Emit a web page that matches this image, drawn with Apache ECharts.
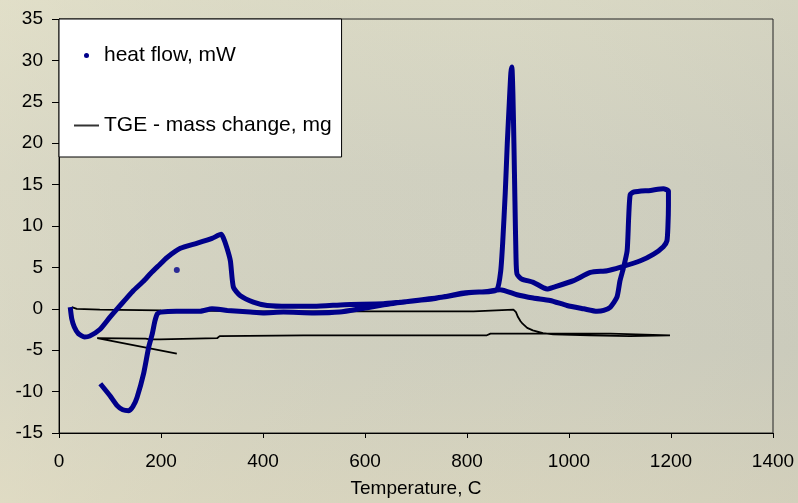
<!DOCTYPE html>
<html>
<head>
<meta charset="utf-8">
<script src="https://cdn.jsdelivr.net/npm/echarts@6/dist/echarts.min.js"></script>
<style>
  html, body { margin: 0; padding: 0; }
  #main { width: 798px; height: 503px; }
</style>
</head>
<body>
<div id="main"></div>
<script>
// heat flow, mW  [temperature C, value]  - heating then cooling
var heatFlow = [
    [22, 0.2], [25, -1.2], [30, -2.2], [38, -3.0], [50, -3.4], [60, -3.3], [80, -2.5],
    [100, -1.0], [114, 0], [130, 1.1], [146, 2.2], [165, 3.3], [180, 4.3], [195, 5.2],
    [212, 6.2], [238, 7.3], [270, 7.9], [300, 8.5], [318, 9.0], [322, 8.6], [329, 7.4],
    [336, 5.8], [342, 2.6], [355, 1.6], [381, 0.8], [408, 0.4], [450, 0.3], [500, 0.3],
    [560, 0.5], [636, 0.6], [669, 0.8], [734, 1.2], [793, 1.9], [846, 2.1], [859, 2.3],
    [866, 4.5], [870, 8], [875, 14], [879, 20], [883, 25], [886, 28.5], [888, 29.2],
    [890, 26], [892, 20], [894, 13], [896, 6.5], [898, 4.2], [907, 3.6], [930, 3.2],
    [957, 2.4], [969, 2.6], [1009, 3.4], [1042, 4.4], [1075, 4.6], [1100, 5.0], [1140, 5.8],
    [1166, 6.6], [1185, 7.5], [1192, 8.2], [1194, 10], [1195, 12.5], [1195, 14.2],
    [1185, 14.5], [1160, 14.3], [1127, 14.1], [1120, 13.8], [1117, 11], [1114, 7],
    [1107, 5.0], [1100, 3.4], [1094, 1.4], [1081, 0.2], [1068, -0.2], [1055, -0.3],
    [1029, 0], [996, 0.4], [963, 1.0], [930, 1.3], [898, 1.7], [865, 2.3], [840, 2.1],
    [800, 1.9], [750, 1.4], [700, 1.0], [650, 0.6], [600, 0.1], [550, -0.4], [500, -0.5],
    [440, -0.4], [400, -0.5], [375, -0.4], [330, -0.2], [300, 0.0], [277, -0.3],
    [230, -0.3], [200, -0.4], [193, -0.6], [188, -1.5], [183, -3.0], [176, -4.6],
    [166, -7.8], [153, -10.7], [145, -11.8], [137, -12.3], [125, -12.2], [114, -11.7],
    [100, -10.5], [81, -9.05]
];
var heatFlowLast = [[231, 4.7]];

// TGE - mass change, mg
var massChange = [
    [25, 0.2], [35, 0.0], [80, -0.1], [82, -0.2], [200, -0.2], [400, -0.3], [600, -0.3],
    [813, -0.3], [816, -0.1], [891, -0.1], [896, -0.4], [900, -1.0], [905, -1.5],
    [909, -1.8], [918, -2.3], [929, -2.6], [949, -2.95], [969, -3.1], [1040, -3.2],
    [1120, -3.3], [1198, -3.2], [1081, -3.0], [846, -3.0], [839, -3.2], [669, -3.2],
    [480, -3.2], [315, -3.3], [313, -3.4], [310, -3.55], [198, -3.7], [178, -3.7],
    [170, -3.6], [75, -3.55], [231, -5.4]
];

var legendNames = ['heat flow, mW', 'TGE - mass change, mg'];

var dom = document.getElementById('main');
var myChart = echarts.init(dom, null, { renderer: 'canvas' });

var font = '"Liberation Sans", Arial, sans-serif';

myChart.setOption({
    animation: false,
    backgroundColor: new echarts.graphic.LinearGradient(0, 0, 0, 1, [
        { offset: 0, color: '#dcdbc6' },
        { offset: 0.35, color: '#d1d1c1' },
        { offset: 0.7, color: '#cfcfbf' },
        { offset: 1, color: '#d9d5be' }
    ]),
    graphic: [{
        type: 'rect',
        left: 0, top: 0, z: -10, silent: true,
        shape: { width: 798, height: 503 },
        style: {
            fill: new echarts.graphic.LinearGradient(0, 0, 1, 0, [
                { offset: 0, color: 'rgba(235,230,205,0.35)' },
                { offset: 0.6, color: 'rgba(200,200,185,0.1)' },
                { offset: 1, color: 'rgba(190,190,178,0.25)' }
            ])
        }
    }],
    textStyle: { fontFamily: font },
    grid: {
        left: 59, right: 25, top: 19, bottom: 70,
        show: true, borderColor: '#222', borderWidth: 1,
        backgroundColor: 'transparent',
        containLabel: false, outerBoundsMode: 'none'
    },
    legend: {
        data: [
            { name: legendNames[0], icon: 'circle' },
            { name: legendNames[1], itemStyle: { opacity: 0 }, lineStyle: { color: '#333', width: 2 } }
        ],
        orient: 'vertical',
        left: 59, top: 19,
        itemWidth: 25, itemHeight: 5, itemGap: 49,
        padding: [26, 10, 21, 14],
        backgroundColor: '#fff',
        borderColor: '#000', borderWidth: 1, borderRadius: 0,
        textStyle: { fontSize: 21, color: '#000', fontFamily: font },
        selectedMode: false
    },
    xAxis: {
        type: 'value',
        min: 0, max: 1400, interval: 200,
        name: 'Temperature, C',
        nameLocation: 'middle', nameGap: 46,
        nameTextStyle: { fontSize: 19, color: '#000', fontFamily: font },
        axisLine: { onZero: false, lineStyle: { color: '#000', width: 1 } },
        axisTick: { length: 5, lineStyle: { color: '#000' } },
        axisLabel: {
            fontSize: 19, color: '#000', margin: 19, fontFamily: font,
            formatter: function (v) { return String(v); }
        },
        splitLine: { show: false }
    },
    yAxis: {
        type: 'value',
        min: -15, max: 35, interval: 5,
        axisLine: { show: true, onZero: false, lineStyle: { color: '#000', width: 1 } },
        axisTick: { show: true, length: 7, lineStyle: { color: '#000' } },
        axisLabel: {
            fontSize: 19, color: '#000', margin: 16, fontFamily: font,
            formatter: function (v) { return String(v); }
        },
        splitLine: { show: false }
    },
    series: [{
        name: legendNames[1],
        type: 'line',
        data: massChange,
        showSymbol: false,
        symbol: 'none',
        color: '#000',
        lineStyle: { color: '#000', width: 1.8 },
        z: 2
    }, {
        name: legendNames[0],
        type: 'line',
        data: heatFlow,
        showSymbol: false,
        symbol: 'none',
        smooth: 0.2,
        color: '#00008a',
        lineStyle: { color: '#00008a', width: 5 },
        z: 3
    }, {
        name: legendNames[0],
        type: 'scatter',
        data: heatFlowLast,
        symbolSize: 6,
        color: '#00008a',
        z: 3
    }]
});

window.onresize = function () {
    myChart.resize();
};
</script>
</body>
</html>
